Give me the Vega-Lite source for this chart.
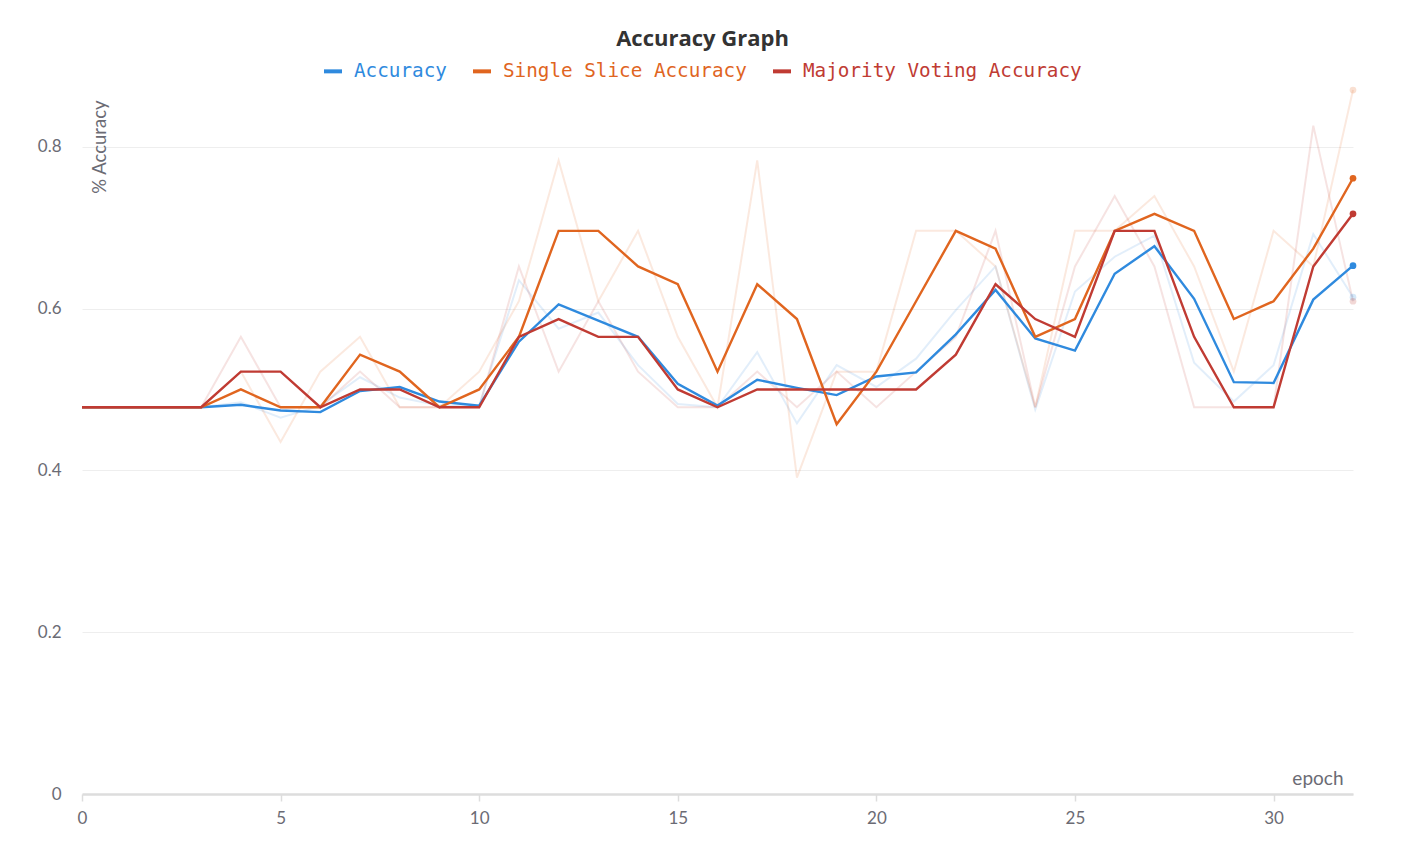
{
  "$schema": "https://vega.github.io/schema/vega-lite/v6.json",
  "width": 1271,
  "height": 708,
  "autosize": {"type": "none"},
  "padding": {"left": 82, "top": 86, "right": 52, "bottom": 67},
  "background": "white",
  "title": {"text": "Accuracy Graph", "font": "Open Sans", "fontSize": 22, "fontWeight": "bold", "color": "#333333", "anchor": "middle", "dx": -15, "offset": 9},
  "config": {
    "view": {"stroke": null},
    "axis": {"labelFont": "Lato", "labelFontSize": 17, "labelColor": "#6b6b74", "titleFont": "Lato", "titleFontSize": 17, "titleFontWeight": "normal", "titleColor": "#6b6b74"}
  },
  "datasets": {
    "smooth": [
      {"epoch":0,"series":"Accuracy","value":0.478},{"epoch":1,"series":"Accuracy","value":0.478},{"epoch":2,"series":"Accuracy","value":0.478},{"epoch":3,"series":"Accuracy","value":0.478},{"epoch":4,"series":"Accuracy","value":0.481},{"epoch":5,"series":"Accuracy","value":0.474},{"epoch":6,"series":"Accuracy","value":0.472},{"epoch":7,"series":"Accuracy","value":0.498},{"epoch":8,"series":"Accuracy","value":0.503},{"epoch":9,"series":"Accuracy","value":0.485},{"epoch":10,"series":"Accuracy","value":0.480},{"epoch":11,"series":"Accuracy","value":0.559},{"epoch":12,"series":"Accuracy","value":0.605},{"epoch":13,"series":"Accuracy","value":0.585},{"epoch":14,"series":"Accuracy","value":0.565},{"epoch":15,"series":"Accuracy","value":0.507},{"epoch":16,"series":"Accuracy","value":0.480},{"epoch":17,"series":"Accuracy","value":0.512},{"epoch":18,"series":"Accuracy","value":0.502},{"epoch":19,"series":"Accuracy","value":0.493},{"epoch":20,"series":"Accuracy","value":0.516},{"epoch":21,"series":"Accuracy","value":0.521},{"epoch":22,"series":"Accuracy","value":0.568},{"epoch":23,"series":"Accuracy","value":0.623},{"epoch":24,"series":"Accuracy","value":0.563},{"epoch":25,"series":"Accuracy","value":0.548},{"epoch":26,"series":"Accuracy","value":0.643},{"epoch":27,"series":"Accuracy","value":0.677},{"epoch":28,"series":"Accuracy","value":0.612},{"epoch":29,"series":"Accuracy","value":0.509},{"epoch":30,"series":"Accuracy","value":0.508},{"epoch":31,"series":"Accuracy","value":0.611},{"epoch":32,"series":"Accuracy","value":0.653},
      {"epoch":0,"series":"Single Slice Accuracy","value":0.478},{"epoch":1,"series":"Single Slice Accuracy","value":0.478},{"epoch":2,"series":"Single Slice Accuracy","value":0.478},{"epoch":3,"series":"Single Slice Accuracy","value":0.478},{"epoch":4,"series":"Single Slice Accuracy","value":0.500},{"epoch":5,"series":"Single Slice Accuracy","value":0.478},{"epoch":6,"series":"Single Slice Accuracy","value":0.478},{"epoch":7,"series":"Single Slice Accuracy","value":0.543},{"epoch":8,"series":"Single Slice Accuracy","value":0.522},{"epoch":9,"series":"Single Slice Accuracy","value":0.478},{"epoch":10,"series":"Single Slice Accuracy","value":0.500},{"epoch":11,"series":"Single Slice Accuracy","value":0.565},{"epoch":12,"series":"Single Slice Accuracy","value":0.696},{"epoch":13,"series":"Single Slice Accuracy","value":0.696},{"epoch":14,"series":"Single Slice Accuracy","value":0.652},{"epoch":15,"series":"Single Slice Accuracy","value":0.630},{"epoch":16,"series":"Single Slice Accuracy","value":0.522},{"epoch":17,"series":"Single Slice Accuracy","value":0.630},{"epoch":18,"series":"Single Slice Accuracy","value":0.587},{"epoch":19,"series":"Single Slice Accuracy","value":0.457},{"epoch":20,"series":"Single Slice Accuracy","value":0.522},{"epoch":21,"series":"Single Slice Accuracy","value":0.609},{"epoch":22,"series":"Single Slice Accuracy","value":0.696},{"epoch":23,"series":"Single Slice Accuracy","value":0.674},{"epoch":24,"series":"Single Slice Accuracy","value":0.565},{"epoch":25,"series":"Single Slice Accuracy","value":0.587},{"epoch":26,"series":"Single Slice Accuracy","value":0.696},{"epoch":27,"series":"Single Slice Accuracy","value":0.717},{"epoch":28,"series":"Single Slice Accuracy","value":0.696},{"epoch":29,"series":"Single Slice Accuracy","value":0.587},{"epoch":30,"series":"Single Slice Accuracy","value":0.609},{"epoch":31,"series":"Single Slice Accuracy","value":0.674},{"epoch":32,"series":"Single Slice Accuracy","value":0.761},
      {"epoch":0,"series":"Majority Voting Accuracy","value":0.478},{"epoch":1,"series":"Majority Voting Accuracy","value":0.478},{"epoch":2,"series":"Majority Voting Accuracy","value":0.478},{"epoch":3,"series":"Majority Voting Accuracy","value":0.478},{"epoch":4,"series":"Majority Voting Accuracy","value":0.522},{"epoch":5,"series":"Majority Voting Accuracy","value":0.522},{"epoch":6,"series":"Majority Voting Accuracy","value":0.478},{"epoch":7,"series":"Majority Voting Accuracy","value":0.500},{"epoch":8,"series":"Majority Voting Accuracy","value":0.500},{"epoch":9,"series":"Majority Voting Accuracy","value":0.478},{"epoch":10,"series":"Majority Voting Accuracy","value":0.478},{"epoch":11,"series":"Majority Voting Accuracy","value":0.565},{"epoch":12,"series":"Majority Voting Accuracy","value":0.587},{"epoch":13,"series":"Majority Voting Accuracy","value":0.565},{"epoch":14,"series":"Majority Voting Accuracy","value":0.565},{"epoch":15,"series":"Majority Voting Accuracy","value":0.500},{"epoch":16,"series":"Majority Voting Accuracy","value":0.478},{"epoch":17,"series":"Majority Voting Accuracy","value":0.500},{"epoch":18,"series":"Majority Voting Accuracy","value":0.500},{"epoch":19,"series":"Majority Voting Accuracy","value":0.500},{"epoch":20,"series":"Majority Voting Accuracy","value":0.500},{"epoch":21,"series":"Majority Voting Accuracy","value":0.500},{"epoch":22,"series":"Majority Voting Accuracy","value":0.543},{"epoch":23,"series":"Majority Voting Accuracy","value":0.630},{"epoch":24,"series":"Majority Voting Accuracy","value":0.587},{"epoch":25,"series":"Majority Voting Accuracy","value":0.565},{"epoch":26,"series":"Majority Voting Accuracy","value":0.696},{"epoch":27,"series":"Majority Voting Accuracy","value":0.696},{"epoch":28,"series":"Majority Voting Accuracy","value":0.565},{"epoch":29,"series":"Majority Voting Accuracy","value":0.478},{"epoch":30,"series":"Majority Voting Accuracy","value":0.478},{"epoch":31,"series":"Majority Voting Accuracy","value":0.652},{"epoch":32,"series":"Majority Voting Accuracy","value":0.717}
    ],
    "raw": [
      {"epoch":0,"series":"Accuracy","value":0.478},{"epoch":1,"series":"Accuracy","value":0.478},{"epoch":2,"series":"Accuracy","value":0.478},{"epoch":3,"series":"Accuracy","value":0.478},{"epoch":4,"series":"Accuracy","value":0.484},{"epoch":5,"series":"Accuracy","value":0.465},{"epoch":6,"series":"Accuracy","value":0.480},{"epoch":7,"series":"Accuracy","value":0.515},{"epoch":8,"series":"Accuracy","value":0.490},{"epoch":9,"series":"Accuracy","value":0.480},{"epoch":10,"series":"Accuracy","value":0.480},{"epoch":11,"series":"Accuracy","value":0.635},{"epoch":12,"series":"Accuracy","value":0.575},{"epoch":13,"series":"Accuracy","value":0.595},{"epoch":14,"series":"Accuracy","value":0.530},{"epoch":15,"series":"Accuracy","value":0.482},{"epoch":16,"series":"Accuracy","value":0.478},{"epoch":17,"series":"Accuracy","value":0.546},{"epoch":18,"series":"Accuracy","value":0.458},{"epoch":19,"series":"Accuracy","value":0.530},{"epoch":20,"series":"Accuracy","value":0.503},{"epoch":21,"series":"Accuracy","value":0.538},{"epoch":22,"series":"Accuracy","value":0.598},{"epoch":23,"series":"Accuracy","value":0.652},{"epoch":24,"series":"Accuracy","value":0.475},{"epoch":25,"series":"Accuracy","value":0.621},{"epoch":26,"series":"Accuracy","value":0.664},{"epoch":27,"series":"Accuracy","value":0.690},{"epoch":28,"series":"Accuracy","value":0.533},{"epoch":29,"series":"Accuracy","value":0.485},{"epoch":30,"series":"Accuracy","value":0.530},{"epoch":31,"series":"Accuracy","value":0.692},{"epoch":32,"series":"Accuracy","value":0.614},
      {"epoch":0,"series":"Single Slice Accuracy","value":0.478},{"epoch":1,"series":"Single Slice Accuracy","value":0.478},{"epoch":2,"series":"Single Slice Accuracy","value":0.478},{"epoch":3,"series":"Single Slice Accuracy","value":0.478},{"epoch":4,"series":"Single Slice Accuracy","value":0.522},{"epoch":5,"series":"Single Slice Accuracy","value":0.435},{"epoch":6,"series":"Single Slice Accuracy","value":0.522},{"epoch":7,"series":"Single Slice Accuracy","value":0.565},{"epoch":8,"series":"Single Slice Accuracy","value":0.478},{"epoch":9,"series":"Single Slice Accuracy","value":0.478},{"epoch":10,"series":"Single Slice Accuracy","value":0.522},{"epoch":11,"series":"Single Slice Accuracy","value":0.609},{"epoch":12,"series":"Single Slice Accuracy","value":0.783},{"epoch":13,"series":"Single Slice Accuracy","value":0.609},{"epoch":14,"series":"Single Slice Accuracy","value":0.696},{"epoch":15,"series":"Single Slice Accuracy","value":0.565},{"epoch":16,"series":"Single Slice Accuracy","value":0.478},{"epoch":17,"series":"Single Slice Accuracy","value":0.783},{"epoch":18,"series":"Single Slice Accuracy","value":0.391},{"epoch":19,"series":"Single Slice Accuracy","value":0.522},{"epoch":20,"series":"Single Slice Accuracy","value":0.522},{"epoch":21,"series":"Single Slice Accuracy","value":0.696},{"epoch":22,"series":"Single Slice Accuracy","value":0.696},{"epoch":23,"series":"Single Slice Accuracy","value":0.652},{"epoch":24,"series":"Single Slice Accuracy","value":0.478},{"epoch":25,"series":"Single Slice Accuracy","value":0.696},{"epoch":26,"series":"Single Slice Accuracy","value":0.696},{"epoch":27,"series":"Single Slice Accuracy","value":0.739},{"epoch":28,"series":"Single Slice Accuracy","value":0.652},{"epoch":29,"series":"Single Slice Accuracy","value":0.522},{"epoch":30,"series":"Single Slice Accuracy","value":0.696},{"epoch":31,"series":"Single Slice Accuracy","value":0.652},{"epoch":32,"series":"Single Slice Accuracy","value":0.870},
      {"epoch":0,"series":"Majority Voting Accuracy","value":0.478},{"epoch":1,"series":"Majority Voting Accuracy","value":0.478},{"epoch":2,"series":"Majority Voting Accuracy","value":0.478},{"epoch":3,"series":"Majority Voting Accuracy","value":0.478},{"epoch":4,"series":"Majority Voting Accuracy","value":0.565},{"epoch":5,"series":"Majority Voting Accuracy","value":0.478},{"epoch":6,"series":"Majority Voting Accuracy","value":0.478},{"epoch":7,"series":"Majority Voting Accuracy","value":0.522},{"epoch":8,"series":"Majority Voting Accuracy","value":0.478},{"epoch":9,"series":"Majority Voting Accuracy","value":0.478},{"epoch":10,"series":"Majority Voting Accuracy","value":0.478},{"epoch":11,"series":"Majority Voting Accuracy","value":0.652},{"epoch":12,"series":"Majority Voting Accuracy","value":0.522},{"epoch":13,"series":"Majority Voting Accuracy","value":0.609},{"epoch":14,"series":"Majority Voting Accuracy","value":0.522},{"epoch":15,"series":"Majority Voting Accuracy","value":0.478},{"epoch":16,"series":"Majority Voting Accuracy","value":0.478},{"epoch":17,"series":"Majority Voting Accuracy","value":0.522},{"epoch":18,"series":"Majority Voting Accuracy","value":0.478},{"epoch":19,"series":"Majority Voting Accuracy","value":0.522},{"epoch":20,"series":"Majority Voting Accuracy","value":0.478},{"epoch":21,"series":"Majority Voting Accuracy","value":0.522},{"epoch":22,"series":"Majority Voting Accuracy","value":0.565},{"epoch":23,"series":"Majority Voting Accuracy","value":0.696},{"epoch":24,"series":"Majority Voting Accuracy","value":0.478},{"epoch":25,"series":"Majority Voting Accuracy","value":0.652},{"epoch":26,"series":"Majority Voting Accuracy","value":0.739},{"epoch":27,"series":"Majority Voting Accuracy","value":0.652},{"epoch":28,"series":"Majority Voting Accuracy","value":0.478},{"epoch":29,"series":"Majority Voting Accuracy","value":0.478},{"epoch":30,"series":"Majority Voting Accuracy","value":0.478},{"epoch":31,"series":"Majority Voting Accuracy","value":0.826},{"epoch":32,"series":"Majority Voting Accuracy","value":0.609}
    ]
  },
  "encoding": {
    "x": {"field": "epoch", "type": "quantitative", "scale": {"domain": [0, 32], "nice": false, "zero": false},
      "axis": {"values": [0, 5, 10, 15, 20, 25, 30], "grid": false, "labelFlush": false, "domainColor": "#dddddd", "domainWidth": 2.5, "tickColor": "#dddddd", "tickWidth": 1.5, "tickSize": 7, "labelPadding": 9, "title": "epoch", "titleFontSize": 19, "titleAnchor": "end", "titleAlign": "right", "titleBaseline": "alphabetic", "titleX": 1261, "titleY": -10}},
    "y": {"field": "value", "type": "quantitative", "scale": {"domain": [0, 0.875], "nice": false},
      "axis": {"values": [0, 0.2, 0.4, 0.6, 0.8], "format": ".1~f", "domain": false, "ticks": false, "labelPadding": 21, "gridColor": "#eeeeee", "gridWidth": 1, "title": "% Accuracy", "titleFontSize": 18.5, "titleAngle": -90, "titleAlign": "right", "titleBaseline": "top", "titleX": 8, "titleY": 14}},
    "color": {"field": "series", "type": "nominal",
      "scale": {"domain": ["Accuracy", "Single Slice Accuracy", "Majority Voting Accuracy"], "range": ["#2f8ade", "#e0651f", "#c03b33"]},
      "legend": {"orient": "none", "legendX": 240, "legendY": -26, "direction": "horizontal", "title": null, "symbolType": "stroke", "symbolStrokeWidth": 4, "symbolSize": 324, "symbolOpacity": 1, "labelFont": "DejaVu Sans Mono", "labelFontSize": 19.3, "labelOffset": 10, "columnPadding": 18, "labelLimit": 500,
        "encode": {"labels": {"update": {"fill": {"scale": "color", "field": "value"}}}}}}
  },
  "layer": [
    {"data": {"name": "raw"}, "mark": {"type": "line", "strokeWidth": 2, "opacity": 0.14}},
    {"data": {"name": "raw"}, "transform": [{"filter": "datum.epoch == 32"}], "mark": {"type": "point", "filled": true, "size": 45, "opacity": 0.2}},
    {"data": {"name": "smooth"}, "mark": {"type": "line", "strokeWidth": 2.4}},
    {"data": {"name": "smooth"}, "transform": [{"filter": "datum.epoch == 32"}], "mark": {"type": "point", "filled": true, "size": 45, "opacity": 1}}
  ]
}
